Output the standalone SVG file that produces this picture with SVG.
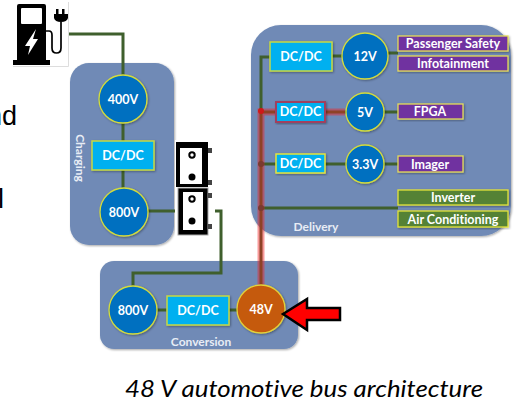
<svg xmlns="http://www.w3.org/2000/svg" width="518" height="402" viewBox="0 0 518 402">
<style>
text{font-family:Lato,"Liberation Sans",sans-serif;fill:#fff;font-weight:700;text-anchor:middle;font-variant-ligatures:none}
.p{fill:#6f8ab6;filter:url(#s)}
.c{fill:#0070c0;stroke:#d4dc3c;stroke-width:1.3;filter:url(#s)}
.o{fill:#c55a11;stroke:#e3d23a;stroke-width:1.3;filter:url(#s)}
.d{fill:#00b0f0;stroke:#c6d944;stroke-width:1.5;filter:url(#s)}
.v{fill:#7030a0;stroke:#e4dc5a;stroke-width:1.3;filter:url(#s)}
.g{fill:#548235;stroke:#e4e43c;stroke-width:1.3;filter:url(#s)}
.w{fill:none;stroke:#3f5f2d;stroke-width:3}
.r{fill:none;stroke:#f02020;stroke-opacity:.45;stroke-width:7}
.t{font-size:12.5px}
.l{font-size:12px;fill:#e8edf5}
.k{fill:#000}
.h{fill:#fff}
</style>
<defs>
<filter id="s" x="-15%" y="-15%" width="130%" height="130%"><feDropShadow dx="1" dy="1" stdDeviation="1" flood-color="#000" flood-opacity=".35"/></filter>
</defs>
<rect width="518" height="402" fill="#fff"/>
<g id="panels">
<rect id="charging" class="p" x="70" y="63" width="104" height="182" rx="19"/>
<rect id="delivery" class="p" x="251" y="25" width="260" height="211" rx="30"/>
<rect id="conversion" class="p" x="100" y="261" width="198" height="88" rx="14"/>
<text class="l" transform="translate(76,158) rotate(90)">Charging</text>
<text class="l" x="316" y="231" font-size="13">Delivery</text>
<text class="l" x="201" y="346">Conversion</text>
</g>
<g id="connectors">
<path class="w" d="M68 34H123V211"/>
<path class="w" d="M123 211H178M212 211H221V273H133V310H261"/>
<path class="w" d="M261 308V57H280M332 56H365M365 53H398M261 112H398M261 164H398M261 208H398"/>
<path class="r" d="M261 308V112H345"/>
<circle cx="261" cy="111" r="3" fill="#d01818"/>
<circle cx="261" cy="164" r="3" fill="#7a3a30"/>
<circle cx="261" cy="208" r="3" fill="#7a3a30"/>
</g>
<g id="charger">
<path d="M13 66.500H68.500V2" fill="none" stroke="#ddd"/>
<path class="k" d="M17 6Q17 4 19 4H44Q46 4 46 6V60H50V65H13V60H17Z"/>
<rect class="h" x="21" y="8" width="21" height="16" rx="1"/>
<path class="h" d="M36 29L25 46H30L28 55L38 39H33Z"/>
<path d="M46 31H49Q52 31 52 35V48Q52 53 56.500 53T61 48V22" fill="none" stroke="#000" stroke-width="1.700"/>
<path class="k" d="M54 14H56V9H58.500V14H62V9H64.500V14H68V18Q67 22 61 22Q55 22 54 18Z"/>
</g>
<g id="transformer">
<rect x="175" y="140" width="40" height="97" fill="#fff"/>
<rect class="k" x="176" y="142" width="32" height="45"/>
<rect class="h" x="180" y="148" width="22" height="36"/>
<rect class="k" x="178" y="188" width="30" height="47" stroke="#aaa"/>
<rect class="h" x="183" y="192" width="20" height="38"/>
<circle cx="192" cy="155" r="2.700" fill="#fff" stroke="#000" stroke-width="2"/>
<circle class="k" cx="192" cy="177" r="3.500"/>
<circle cx="192" cy="199" r="2.700" fill="#fff" stroke="#000" stroke-width="2"/>
<circle class="k" cx="192" cy="221" r="3.500"/>
<path fill="#444" d="M208 148h4v5h-4zM208 180h4v5h-4zM208 193h4v5h-4zM208 224h4v5h-4z"/>
</g>
<g id="v400"><circle class="c" cx="123" cy="99" r="24"/><text class="t" x="123" y="104">400V</text></g>
<g id="dc-charging"><rect class="d" x="92" y="141" width="62" height="29"/><text class="t" x="123" y="160">DC/DC</text></g>
<g id="v800-charging"><circle class="c" cx="124" cy="212" r="24"/><text class="t" x="124" y="217">800V</text></g>
<g id="v800-conversion"><circle class="c" cx="133" cy="310" r="24"/><text class="t" x="133" y="315">800V</text></g>
<g id="dc-conversion"><rect class="d" x="167" y="296" width="62" height="29"/><text class="t" x="198" y="315">DC/DC</text></g>
<g id="v48"><circle class="o" cx="261" cy="309" r="24"/><text class="t" x="261" y="314">48V</text></g>
<g id="dc-12"><rect class="d" x="270" y="42" width="62" height="29"/><text class="t" x="301" y="61">DC/DC</text></g>
<g id="v12"><circle class="c" cx="365" cy="56" r="23"/><text class="t" x="365" y="61">12V</text></g>
<g id="dc-5"><rect class="d" style="stroke:#a0405f;stroke-width:2" x="276" y="102" width="49" height="20"/><text class="t" x="300.500" y="116">DC/DC</text></g>
<g id="v5"><circle class="c" cx="365" cy="112" r="19"/><text class="t" x="365" y="117">5V</text></g>
<g id="dc-33"><rect class="d" style="stroke:#e4e43c" x="276" y="154" width="49" height="19"/><text class="t" x="300.500" y="168">DC/DC</text></g>
<g id="v33"><circle class="c" cx="365" cy="164" r="19"/><text class="t" x="365" y="169">3.3V</text></g>
<g id="passenger"><rect class="v" x="398" y="36" width="110" height="15"/><text class="t" x="453" y="48">Passenger Safety</text></g>
<g id="infotainment"><rect class="v" x="398" y="56" width="110" height="15"/><text class="t" x="453" y="68">Infotainment</text></g>
<g id="fpga"><rect class="v" x="398" y="104" width="65" height="15"/><text class="t" x="430" y="116">FPGA</text></g>
<g id="imager"><rect class="v" x="398" y="156" width="65" height="16"/><text class="t" x="430" y="169">Imager</text></g>
<g id="inverter"><rect class="g" x="398" y="190" width="110" height="15"/><text class="t" x="453" y="202">Inverter</text></g>
<g id="aircon"><rect class="g" x="398" y="211" width="110" height="16"/><text class="t" x="453" y="224">Air Conditioning</text></g>
<g id="arrow"><path d="M283 314L307 299V308H340V320H307V330Z" fill="#f00" stroke="#000" stroke-width="2.500"/></g>
<g id="page-text">
<text x="-13" y="125" style="fill:#000;font-weight:400;font-size:27px;text-anchor:start;font-family:'Liberation Sans',sans-serif">nd</text>
<text x="-2" y="208" style="fill:#000;font-weight:400;font-size:27px;text-anchor:start;font-family:'Liberation Sans',sans-serif">l</text>
<text x="304" y="397" textLength="358" lengthAdjust="spacingAndGlyphs" style="fill:#000;font-weight:400;font-style:italic;font-size:23px">48 V automotive bus architecture</text>
</g>
</svg>
